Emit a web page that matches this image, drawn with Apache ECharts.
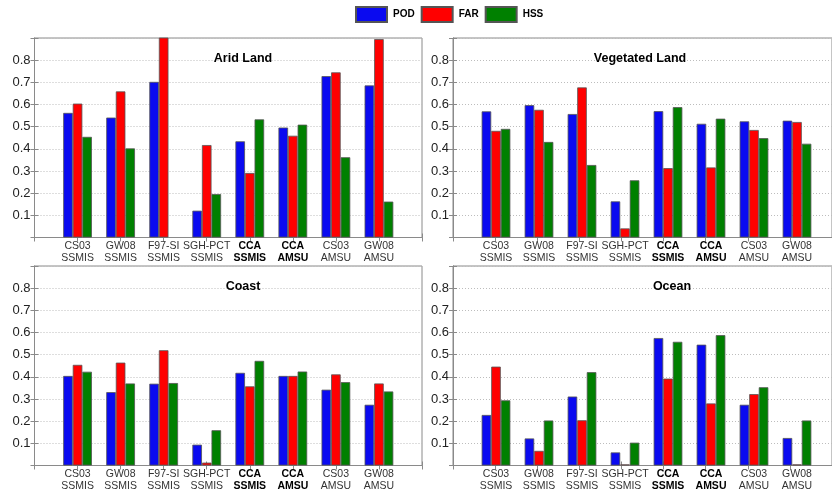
<!DOCTYPE html>
<html>
<head>
<meta charset="utf-8">
<script src="https://cdn.jsdelivr.net/npm/echarts@6/dist/echarts.min.js"></script>
<style>html,body{margin:0;padding:0;background:#fff}#c{width:832px;height:493px}</style>
</head>
<body>
<div id="c"></div>
<script>
// ---- data ----
const catLine1 = ['CS03', 'GW08', 'F97-SI', 'SGH-PCT', 'CCA', 'CCA', 'CS03', 'GW08'];
const catLine2 = ['SSMIS', 'SSMIS', 'SSMIS', 'SSMIS', 'SSMIS', 'AMSU', 'AMSU', 'AMSU'];
const catBold = [false, false, false, false, true, true, false, false];
const yTickLabels = ['0.1', '0.2', '0.3', '0.4', '0.5', '0.6', '0.7', '0.8'];
const seriesNames = ['POD', 'FAR', 'HSS'];
const panelTitles = ['Arid Land', 'Vegetated Land', 'Coast', 'Ocean'];

const aridPOD = [0.562, 0.541, 0.702, 0.121, 0.434, 0.496, 0.728, 0.686];
const aridFAR = [0.604, 0.659, 0.95, 0.417, 0.291, 0.459, 0.745, 0.895];
const aridHSS = [0.454, 0.402, null, 0.196, 0.533, 0.509, 0.362, 0.162];

const vegPOD = [0.569, 0.597, 0.557, 0.163, 0.570, 0.513, 0.524, 0.527];
const vegFAR = [0.481, 0.576, 0.677, 0.041, 0.313, 0.316, 0.485, 0.521];
const vegHSS = [0.490, 0.431, 0.327, 0.258, 0.588, 0.536, 0.448, 0.423];

const coastPOD = [0.404, 0.331, 0.369, 0.094, 0.418, 0.404, 0.342, 0.274];
const coastFAR = [0.454, 0.464, 0.520, 0.013, 0.357, 0.404, 0.411, 0.370];
const coastHSS = [0.423, 0.370, 0.372, 0.159, 0.472, 0.424, 0.376, 0.334];

const oceanPOD = [0.228, 0.122, 0.311, 0.059, 0.575, 0.545, 0.274, 0.124];
const oceanFAR = [0.446, 0.066, 0.204, 0.005, 0.392, 0.280, 0.322, 0.005];
const oceanHSS = [0.294, 0.203, 0.421, 0.103, 0.558, 0.588, 0.353, 0.203];

const panelData = [
  [aridPOD, aridFAR, aridHSS],
  [vegPOD, vegFAR, vegHSS],
  [coastPOD, coastFAR, coastHSS],
  [oceanPOD, oceanFAR, oceanHSS]
];

// ---- layout / style ----
const colors = ['#0a0af0', '#ff0000', '#008000'];
const FONT = 'Liberation Sans, Arial, Helvetica, sans-serif';
const panels = [
  {left: 34.5, top: 38, width: 387.5, height: 199.5, titleX: 238, titleY: 47},
  {left: 453, top: 38, width: 387, height: 199.5, titleX: 635, titleY: 47},
  {left: 34.5, top: 266, width: 387.5, height: 199.5, titleX: 238, titleY: 275},
  {left: 453, top: 266, width: 387, height: 199.5, titleX: 667, titleY: 275}
];
const YMAX = 0.9, XSPAN = 9;
const categories = catLine1.map((a, i) => a + ' ' + catLine2[i]);

const grids = [], xAxes = [], yAxes = [], series = [], titles = [];
panels.forEach((p, k) => {
  const unit = p.width / XSPAN;
  grids.push({left: p.left, top: p.top, width: p.width, height: p.height,
    show: true, borderColor: '#8a8a8a', borderWidth: 1, backgroundColor: 'transparent'});
  grids.push({left: p.left + unit * 0.5, top: p.top, width: unit * 8, height: p.height});
  const fg = 2 * k, bg = 2 * k + 1;
  ['bottom', 'top'].forEach(pos => {
    xAxes.push({type: 'value', gridIndex: fg, position: pos, min: 0, max: XSPAN, interval: 1,
      axisLine: {show: true, lineStyle: {color: '#8a8a8a', width: 1}},
      axisTick: {show: true, inside: true, length: 4, lineStyle: {color: '#8a8a8a'}},
      axisLabel: {show: false}, splitLine: {show: false}});
  });
  const barX = xAxes.length;
  xAxes.push({type: 'category', gridIndex: bg, data: categories, boundaryGap: true,
    axisLine: {show: false}, axisTick: {show: false}, splitLine: {show: false},
    axisLabel: {interval: 0, margin: 2,
      formatter: (v, i) => {
        const s = catBold[i] ? 'b' : 'n';
        return '{' + s + '|' + catLine1[i] + '}\n{' + s + '|' + catLine2[i] + '}';
      },
      rich: {
        n: {fontFamily: FONT, fontSize: 10.5, color: '#333', lineHeight: 12.5},
        b: {fontFamily: FONT, fontSize: 10.5, fontWeight: 'bold', color: '#000', lineHeight: 12.5}
      }}});
  yAxes.push({type: 'value', gridIndex: fg, position: 'left', min: 0, max: YMAX, interval: 0.1,
    axisLine: {show: true, lineStyle: {color: '#8a8a8a'}},
    axisTick: {show: true, inside: true, length: 4, lineStyle: {color: '#8a8a8a'}},
    axisLabel: {margin: 4, fontFamily: FONT, fontSize: 13, color: '#222',
      formatter: v => { const i = Math.round(v * 10) - 1; return (i >= 0 && i < yTickLabels.length) ? yTickLabels[i] : ''; }},
    splitLine: {show: true, lineStyle: {color: '#bdbdbd', type: [1, 2], width: 1}}});
  yAxes.push({type: 'value', gridIndex: fg, position: 'right', min: 0, max: YMAX, interval: 0.1,
    axisLine: {show: true, lineStyle: {color: '#8a8a8a'}},
    axisTick: {show: true, inside: true, length: 4, lineStyle: {color: '#8a8a8a'}},
    axisLabel: {show: false}, splitLine: {show: false}});
  const barY = yAxes.length;
  yAxes.push({type: 'value', gridIndex: bg, min: 0, max: YMAX, show: false, splitLine: {show: false}});
  panelData[k].forEach((vals, j) => {
    series.push({type: 'bar', name: seriesNames[j], xAxisIndex: barX, yAxisIndex: barY,
      data: vals, barGap: '0%', barCategoryGap: '33.3%', clip: true,
      itemStyle: {color: colors[j], borderColor: '#555', borderWidth: 0.8},
      emphasis: {disabled: true}, z: 3});
  });
  titles.push({text: panelTitles[k], left: p.titleX, top: p.titleY, textAlign: 'center',
    textStyle: {fontFamily: FONT, fontSize: 12.5, fontWeight: 'bold', color: '#000'}});
});

const chart = echarts.init(document.getElementById('c'), null, {renderer: 'canvas'});
chart.setOption({
  animation: false,
  backgroundColor: '#fff',
  title: titles,
  legend: {data: seriesNames, left: 355, top: 6, padding: 0, itemWidth: 31, itemHeight: 15, itemGap: 6,
    icon: 'rect', textStyle: {fontFamily: FONT, fontSize: 10, fontWeight: 'bold', color: '#000', padding: [0, 0, 0, 1]}},
  grid: grids,
  xAxis: xAxes,
  yAxis: yAxes,
  series: series
});
</script>
</body>
</html>
